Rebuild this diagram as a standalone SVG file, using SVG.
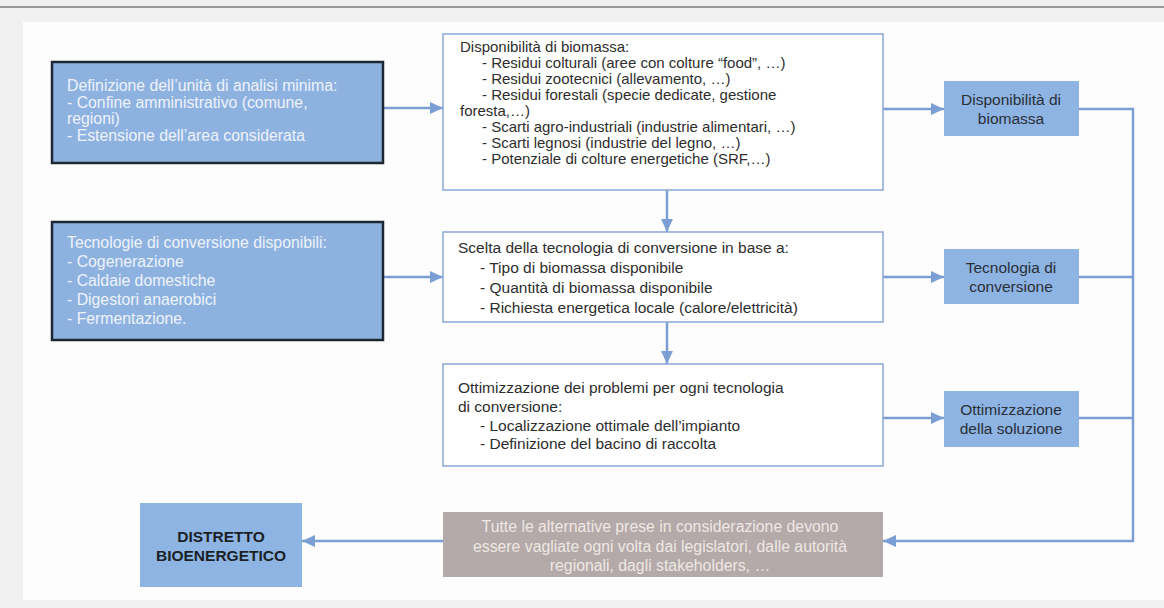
<svg xmlns="http://www.w3.org/2000/svg" width="1164" height="608" viewBox="0 0 1164 608">
  <style>
    text { font-family: "Liberation Sans", Arial, sans-serif; font-size: 15.5px; }
    .lbox { fill: #8db2e0; stroke: #1e2833; stroke-width: 2.5; }
    .ltxt { fill: #eef3fa; font-size: 15.8px; }
    .mbox { fill: #ffffff; stroke: #8aa6d6; stroke-width: 1.5; }
    .mtxt { fill: #2e2e2e; }
    .m1 { font-size: 15px; }
    .rbox { fill: #8db4e2; }
    .rtxt { fill: #2a2f38; text-anchor: middle; }
    .gbox { fill: #b4aaa9; }
    .gtxt { fill: #eee8e4; text-anchor: middle; font-size: 15.8px; }
    .dtxt { fill: #1b1f26; text-anchor: middle; font-weight: bold; font-size: 15.5px; }
    .conn { fill: none; stroke: #7b9fd5; stroke-width: 2.5; }
  </style>
  <defs>
    <marker id="arr" viewBox="0 0 12 12" refX="12" refY="6" markerUnits="userSpaceOnUse" markerWidth="13" markerHeight="13" orient="auto">
      <path d="M0,0.5 L12,6 L0,11.5 z" fill="#7b9fd5"/>
    </marker>
  </defs>

  <rect x="0" y="0" width="1164" height="608" fill="#f0f0f0"/>
  <line x1="0" y1="7" x2="1164" y2="7" stroke="#7d7d7d" stroke-width="1.5"/>
  <rect x="23" y="22" width="1141" height="578" fill="#fdfdfd"/>

  <g id="connectors">
    <line class="conn" x1="384" y1="108" x2="443" y2="108" marker-end="url(#arr)"/>
    <line class="conn" x1="384" y1="277" x2="443" y2="277" marker-end="url(#arr)"/>
    <line class="conn" x1="667" y1="190" x2="667" y2="232" marker-end="url(#arr)"/>
    <line class="conn" x1="667" y1="322" x2="667" y2="364" marker-end="url(#arr)"/>
    <line class="conn" x1="883" y1="109" x2="944" y2="109" marker-end="url(#arr)"/>
    <line class="conn" x1="883" y1="277" x2="944" y2="277" marker-end="url(#arr)"/>
    <line class="conn" x1="883" y1="418" x2="944" y2="418" marker-end="url(#arr)"/>
    <line class="conn" x1="1079" y1="277" x2="1133" y2="277"/>
    <line class="conn" x1="1079" y1="418" x2="1133" y2="418"/>
    <polyline class="conn" points="1079,109 1133,109 1133,541 883,541" marker-end="url(#arr)"/>
    <line class="conn" x1="443" y1="541" x2="302" y2="541" marker-end="url(#arr)"/>
  </g>

  <g id="unita-analisi">
    <rect class="lbox" x="52" y="62" width="331" height="101"/>
    <text class="ltxt" x="67" y="91">Definizione dell’unità di analisi minima:</text>
    <text class="ltxt" x="67" y="108">- Confine amministrativo (comune,</text>
    <text class="ltxt" x="67" y="124">regioni)</text>
    <text class="ltxt" x="67" y="141">- Estensione dell’area considerata</text>
  </g>

  <g id="tecnologie-disponibili">
    <rect class="lbox" x="52" y="222" width="331" height="118"/>
    <text class="ltxt" x="67" y="248">Tecnologie di conversione disponibili:</text>
    <text class="ltxt" x="67" y="267">- Cogenerazione</text>
    <text class="ltxt" x="67" y="286">- Caldaie domestiche</text>
    <text class="ltxt" x="67" y="305">- Digestori anaerobici</text>
    <text class="ltxt" x="67" y="324">- Fermentazione.</text>
  </g>

  <g id="disponibilita-biomassa-dettaglio">
    <rect class="mbox" x="443" y="34" width="440" height="156"/>
    <text class="mtxt m1" x="460" y="52">Disponibilità di biomassa:</text>
    <text class="mtxt m1" x="482" y="68">- Residui colturali (aree con colture “food”, …)</text>
    <text class="mtxt m1" x="482" y="84">- Residui zootecnici (allevamento, …)</text>
    <text class="mtxt m1" x="482" y="100">- Residui forestali (specie dedicate, gestione</text>
    <text class="mtxt m1" x="460" y="116">foresta,…)</text>
    <text class="mtxt m1" x="482" y="132">- Scarti agro-industriali (industrie alimentari, …)</text>
    <text class="mtxt m1" x="482" y="148">- Scarti legnosi (industrie del legno, …)</text>
    <text class="mtxt m1" x="482" y="164">- Potenziale di colture energetiche (SRF,…)</text>
  </g>

  <g id="scelta-tecnologia">
    <rect class="mbox" x="443" y="232" width="440" height="90"/>
    <text class="mtxt" x="458" y="253">Scelta della tecnologia di conversione in base a:</text>
    <text class="mtxt" x="480" y="273">- Tipo di biomassa disponibile</text>
    <text class="mtxt" x="480" y="293">- Quantità di biomassa disponibile</text>
    <text class="mtxt" x="480" y="313">- Richiesta energetica locale (calore/elettricità)</text>
  </g>

  <g id="ottimizzazione-problemi">
    <rect class="mbox" x="443" y="364" width="440" height="102"/>
    <text class="mtxt" x="458" y="393">Ottimizzazione dei problemi per ogni tecnologia</text>
    <text class="mtxt" x="458" y="412">di conversione:</text>
    <text class="mtxt" x="480" y="431">- Localizzazione ottimale dell’impianto</text>
    <text class="mtxt" x="480" y="449">- Definizione del bacino di raccolta</text>
  </g>

  <g id="disponibilita-biomassa">
    <rect class="rbox" x="944" y="81" width="135" height="55"/>
    <text class="rtxt" x="1011" y="105">Disponibilità di</text>
    <text class="rtxt" x="1011" y="124">biomassa</text>
  </g>

  <g id="tecnologia-conversione">
    <rect class="rbox" x="944" y="249" width="135" height="55"/>
    <text class="rtxt" x="1011" y="273">Tecnologia di</text>
    <text class="rtxt" x="1011" y="292">conversione</text>
  </g>

  <g id="ottimizzazione-soluzione">
    <rect class="rbox" x="944" y="391" width="135" height="56"/>
    <text class="rtxt" x="1011" y="415">Ottimizzazione</text>
    <text class="rtxt" x="1011" y="434">della soluzione</text>
  </g>

  <g id="valutazione-alternative">
    <rect class="gbox" x="443" y="512" width="440" height="65"/>
    <text class="gtxt" x="660" y="532">Tutte le alternative prese in considerazione devono</text>
    <text class="gtxt" x="660" y="552">essere vagliate ogni volta dai legislatori, dalle autorità</text>
    <text class="gtxt" x="660" y="571">regionali, dagli stakeholders, …</text>
  </g>

  <g id="distretto-bioenergetico">
    <rect class="rbox" x="140" y="503" width="162" height="84"/>
    <text class="dtxt" x="221" y="542">DISTRETTO</text>
    <text class="dtxt" x="221" y="561">BIOENERGETICO</text>
  </g>
</svg>
